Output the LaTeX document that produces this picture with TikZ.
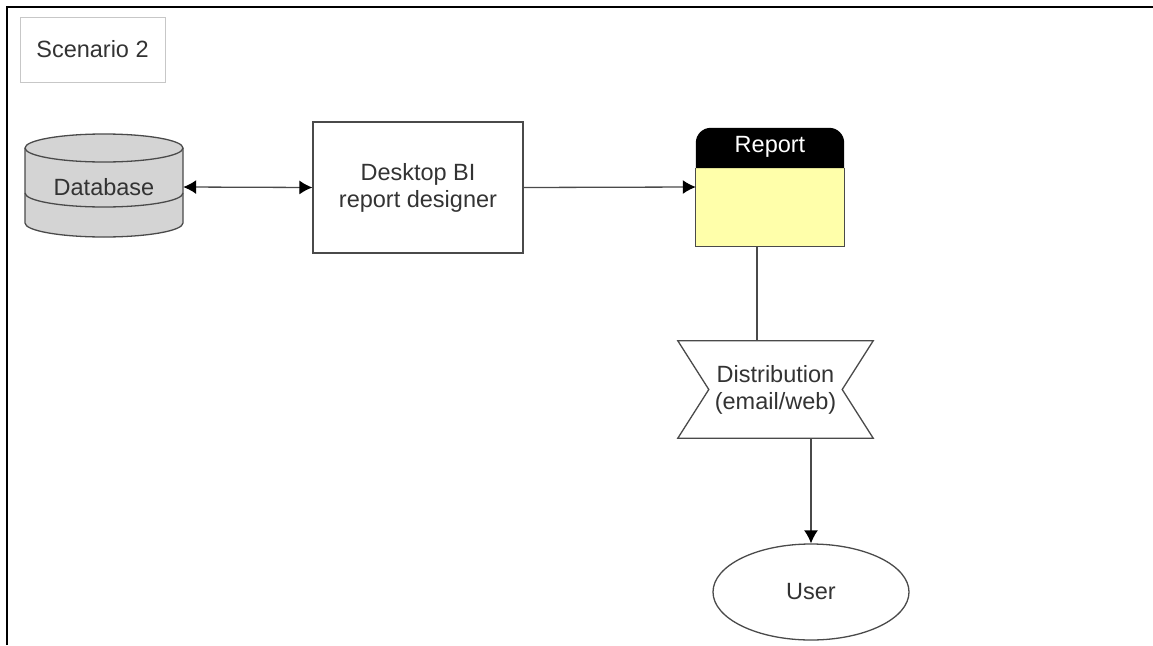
\documentclass[tikz,border=0pt]{standalone}
\usepackage{fontspec}
\setmainfont{Liberation Sans}
\usetikzlibrary{shapes.geometric,arrows.meta}
\definecolor{boxline}{HTML}{4A4A4A}
\definecolor{dbgrey}{HTML}{D4D4D4}
\definecolor{reportyellow}{HTML}{FFFFAA}
\begin{document}
\begin{tikzpicture}[x=1pt, y=-1pt,
  every node/.style={font=\fontsize{23.5}{27}\selectfont, text=black!80},
  box/.style={draw=boxline, line width=1.3pt, rectangle, inner sep=0pt, align=center},
  ghost/.style={rectangle, inner sep=0pt, align=center},
  link/.style={draw=boxline, line width=1.3pt},
  tip/.style={-{Latex[length=13pt, width=14pt, black]}}]
\useasboundingbox (0,0) rectangle (1153,645);
\draw [line width=2.5pt] (7,645) -- (7,7) -- (1153,7);
\node [box, draw=black!22, line width=1pt, minimum width=145pt, minimum height=65pt] (scen) at (92.5,49.5) {Scenario 2};
\draw [boxline, fill=dbgrey, line width=1.3pt] (25,148) -- (25,223) arc [start angle=180, end angle=0, x radius=79, y radius=14] -- (183,148);
\draw [boxline, fill=dbgrey, line width=1.3pt] (104,148) ellipse [x radius=79, y radius=14];
\draw [boxline, line width=1.3pt] (25,193) arc [start angle=180, end angle=0, x radius=79, y radius=14];
\node [ghost, minimum width=158pt, minimum height=102pt] (db) at (104,187) {Database};
\node [box, minimum width=210pt, minimum height=131pt] (designer) at (418,187.5) {Desktop BI\\report designer};
\node [ghost, minimum width=148pt, minimum height=118pt] (report) at (770,187) {};
\fill [reportyellow] (report.south west) rectangle (report.east |- 0,168);
\fill [black] (report.west |- 0,168) [rounded corners=15pt] -- (report.north west) -- (report.north east) [sharp corners] -- (report.east |- 0,168) -- cycle;
\draw [boxline, line width=1.3pt] (report.west |- 0,168) -- (report.south west) -- (report.south east) -- (report.east |- 0,168);
\node [text=white] at (770,147) {Report};
\node [ghost, minimum width=195pt, minimum height=97pt] (dist) at (775.5,389.5) {Distribution\\(email/web)};
\draw [boxline, line width=1.3pt] (dist.north west) -- (dist.north east) -- ([xshift=-31pt]dist.east) -- (dist.south east) -- (dist.south west) -- ([xshift=31pt]dist.west) -- cycle;
\node [box, ellipse, minimum width=196pt, minimum height=96pt] (user) at (811,592) {User};
\draw [link, {Latex[length=13pt, width=14pt, black]}-{Latex[length=13pt, width=14pt, black]}] (db.east) -- (designer.west);
\draw [link, tip] (designer.east) -- (report.west);
\draw [link] ([xshift=-13pt]report.south) -- ([xshift=-13pt]report.south |- dist.north);
\draw [link, tip] (dist.south -| user.north) -- (user.north);
\end{tikzpicture}
\end{document}
